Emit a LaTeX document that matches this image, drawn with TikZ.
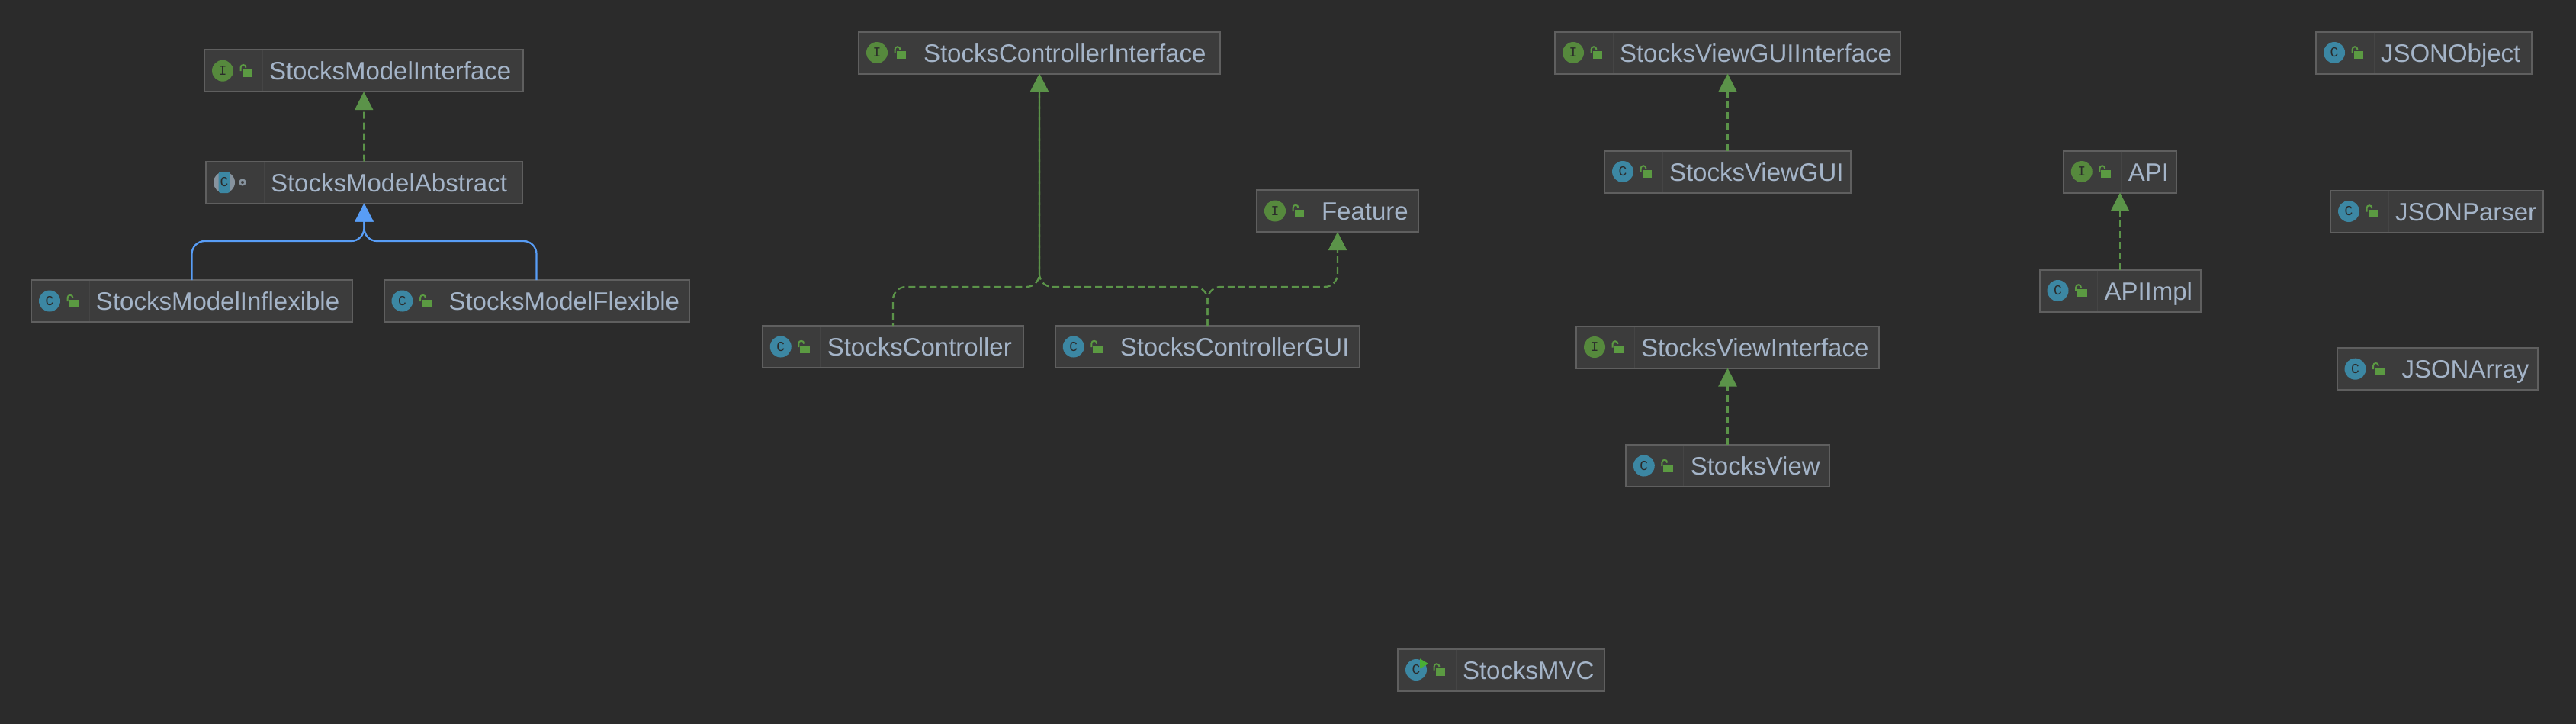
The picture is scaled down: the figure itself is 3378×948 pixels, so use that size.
\documentclass[tikz,border=0pt]{standalone}
\usepackage{fontspec}
\setmainfont{Liberation Sans}
\setmonofont{Liberation Mono}
\usetikzlibrary{arrows.meta}

\definecolor{canvas}{HTML}{2B2B2B}
\definecolor{boxfill}{HTML}{3C3C3C}
\definecolor{boxline}{HTML}{5F5F5F}
\definecolor{boxrule}{HTML}{454545}
\definecolor{labelblue}{HTML}{A4B4C8}
\definecolor{implgreen}{HTML}{5B9349}
\definecolor{extendblue}{HTML}{589DF6}
\definecolor{classteal}{HTML}{3C87A3}
\definecolor{ifacegreen}{HTML}{56893D}
\definecolor{lockgreen}{HTML}{5B9A42}
\definecolor{abstractgrey}{HTML}{87939E}

\tikzset{
    classbox/.style={draw=boxline, fill=boxfill, line width=2pt, minimum height=55pt, inner sep=0pt, outer sep=0pt,
        text=labelblue, font=\fontsize{33}{36}\selectfont, text height=30pt, text depth=6pt, align=left,
        execute at begin node={\hspace*{85pt}}},
    badge/.style={circle, minimum size=28pt, inner sep=0pt, text=canvas, font=\ttfamily\fontsize{18}{18}\selectfont},
    impl/.style={draw=implgreen, line width=2.3pt, dash pattern=on 9pt off 5pt, rounded corners=17pt,
        -{Triangle[length=24pt,width=24pt,fill=implgreen]}},
    extend/.style={draw=extendblue, line width=2.3pt, rounded corners=17pt,
        -{Triangle[length=24pt,width=24pt,fill=extendblue]}},
    openlock/.pic={
        \fill[lockgreen] (49.7,-2) rectangle (62,8.3);
        \draw[lockgreen, line width=2pt] (47.5,0.5) -- (47.5,-4) .. controls (47.5,-9) and (54.5,-9) .. (54.5,-4);
    }
}

\begin{document}
\begin{tikzpicture}[x=1pt, y=-1pt]
        \useasboundingbox (0,0) rectangle (3378,948);
        \fill[canvas] (-5,-5) rectangle (3383,953);

        \node[classbox, text width=418pt] (smi) at (477, 92.7) {StocksModelInterface};
        \node[classbox, text width=415pt] (sma) at (477.5, 239) {StocksModelAbstract};
        \node[classbox, text width=421pt] (smin) at (251.5, 394.5) {StocksModelInflexible};
        \node[classbox, text width=400pt] (smfl) at (703.5, 394.5) {StocksModelFlexible};
        \node[classbox, text width=474pt] (sci) at (1363, 69) {StocksControllerInterface};
        \node[classbox, text width=212pt] (ftr) at (1754, 276.5) {Feature};
        \node[classbox, text width=342.5pt] (sc) at (1171, 454.5) {StocksController};
        \node[classbox, text width=399.5pt] (scg) at (1583.5, 454.5) {StocksControllerGUI};
        \node[classbox, text width=453pt] (svgi) at (2265.5, 69) {StocksViewGUIInterface};
        \node[classbox, text width=323pt] (svg) at (2265.5, 225) {StocksViewGUI};
        \node[classbox, text width=397pt] (svi) at (2265.5, 455) {StocksViewInterface};
        \node[classbox, text width=267.5pt] (sv) at (2265.5, 610.5) {StocksView};
        \node[classbox, text width=148.5pt] (api) at (2780, 225) {API};
        \node[classbox, text width=211pt] (apim) at (2780, 381) {APIImpl};
        \node[classbox, text width=283pt] (jo) at (3178.5, 69) {JSONObject};
        \node[classbox, text width=279pt] (jp) at (3195.5, 277) {JSONParser};
        \node[classbox, text width=263pt] (ja) at (3196, 483.7) {JSONArray};
        \node[classbox, text width=271pt] (mvc) at (1968.5, 878) {StocksMVC};

        \coordinate (modelbus) at (477.5, 316);
        \coordinate (ctrlbus) at (1363, 376);

        \draw[impl] (sma) -- (smi);
        \draw[extend] (smin.north) |- (modelbus) -- (sma.south);
        \draw[extend] (smfl.north) |- (modelbus) -- (sma.south);
        \draw[impl, dash phase=6pt] (sc.north) |- (ctrlbus) -- (sci.south);
        \draw[impl] (scg.north) |- (ctrlbus) -- (sci.south);
        \draw[impl] (scg.north) |- (ctrlbus -| ftr.south) -- (ftr.south);
        \draw[impl] (svg) -- (svgi);
        \draw[impl] (sv) -- (svi);
        \draw[impl] (apim) -- (api);

        \foreach \boxname in {smi,sma,smin,smfl,sci,ftr,sc,scg,svgi,svg,svi,sv,api,apim,jo,jp,ja,mvc}
            \draw[boxrule, line width=1pt] ([xshift=76pt, yshift=-1pt]\boxname.north west) -- ([xshift=76pt, yshift=1pt]\boxname.south west);

        \foreach \boxname in {smi,sci,ftr,svgi,svi,api}
            \node[badge, fill=ifacegreen] (badge\boxname) at ([xshift=24pt]\boxname.west) {I};
        \foreach \boxname in {smin,smfl,sc,scg,svg,sv,apim,jo,jp,ja,mvc}
            \node[badge, fill=classteal] (badge\boxname) at ([xshift=24pt]\boxname.west) {C};
        \foreach \boxname in {smi,smin,smfl,sci,ftr,sc,scg,svgi,svg,svi,sv,api,apim,jo,jp,ja,mvc}
            \pic at (\boxname.west) {openlock};

        \node[badge, fill=abstractgrey] (badgesma) at ([xshift=24pt]sma.west) {};
        \fill[classteal, rounded corners=3pt] ([xshift=-7.5pt, yshift=-14pt]badgesma.center) rectangle ([xshift=7.5pt, yshift=14pt]badgesma.center);
        \node[badge, minimum size=0pt] (lettersma) at (badgesma) {C};
        \draw[abstractgrey, line width=2.4pt] ([xshift=48pt]sma.west) circle[radius=3.4pt];

        \fill[lockgreen!80!green] ([xshift=29pt, yshift=14.7pt]mvc.west) -- ([xshift=40pt, yshift=8pt]mvc.west) -- ([xshift=29pt, yshift=1.5pt]mvc.west) -- cycle;
    \end{tikzpicture}
\end{document}
